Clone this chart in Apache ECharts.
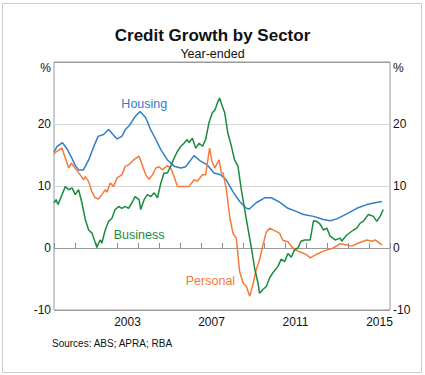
<!DOCTYPE html>
<html>
<head>
<meta charset="utf-8">
<script src="https://cdn.jsdelivr.net/npm/echarts@6/dist/echarts.min.js"></script>
<style>
  html, body { margin: 0; padding: 0; background: #fff; }
  #chart { width: 425px; height: 375px; }
</style>
</head>
<body>
<div id="chart"></div>
<script>
(function() {
  // year-ended growth, % ([decimal year, value])
  var housing = [
    [2000.0, 15.5], [2000.15, 16.4], [2000.4, 17.0], [2000.6, 16.1], [2000.85, 14.5], [2001.0, 13.4],
    [2001.17, 12.6], [2001.4, 12.6], [2001.65, 14.2], [2001.9, 16.4], [2002.1, 18.0], [2002.36, 18.3],
    [2002.6, 19.1], [2002.76, 18.5], [2003.0, 17.6], [2003.23, 18.0], [2003.4, 19.1], [2003.6, 19.8],
    [2003.86, 21.2], [2004.1, 22.0], [2004.37, 21.0], [2004.6, 19.1], [2004.85, 17.5], [2005.08, 15.9],
    [2005.4, 14.2], [2005.72, 13.2], [2006.04, 12.9], [2006.27, 13.1], [2006.67, 14.9], [2006.98, 14.0],
    [2007.3, 13.4], [2007.62, 12.1], [2007.94, 11.8], [2008.2, 11.0], [2008.52, 9.1], [2008.84, 7.5],
    [2009.16, 6.4], [2009.3, 6.3], [2009.63, 7.3], [2010.03, 8.1], [2010.35, 8.1], [2010.74, 7.4],
    [2011.14, 6.4], [2011.53, 5.9], [2011.88, 5.4], [2012.36, 5.1], [2012.83, 4.6], [2013.15, 4.4],
    [2013.47, 4.7], [2013.94, 5.5], [2014.42, 6.4], [2014.89, 7.0], [2015.29, 7.3], [2015.62, 7.5]
  ];
  var personal = [
    [2000.0, 15.2], [2000.14, 15.6], [2000.38, 16.1], [2000.54, 14.5], [2000.7, 12.9], [2000.82, 13.7],
    [2001.0, 12.9], [2001.25, 11.8], [2001.41, 11.0], [2001.49, 11.5], [2001.65, 10.7], [2001.8, 9.1],
    [2001.96, 8.1], [2002.12, 7.9], [2002.28, 8.6], [2002.44, 9.4], [2002.52, 9.0], [2002.68, 10.5],
    [2002.84, 9.9], [2003.0, 11.3], [2003.23, 11.8], [2003.4, 13.2], [2003.55, 13.4], [2003.79, 14.2],
    [2004.05, 14.8], [2004.2, 13.4], [2004.37, 11.8], [2004.53, 11.1], [2004.69, 11.8], [2004.85, 12.9],
    [2005.0, 13.1], [2005.17, 12.6], [2005.4, 13.3], [2005.56, 12.9], [2005.72, 11.5], [2005.88, 9.9],
    [2006.12, 9.9], [2006.43, 9.9], [2006.67, 11.0], [2006.83, 10.8], [2007.07, 11.8], [2007.22, 11.8],
    [2007.41, 16.1], [2007.52, 14.0], [2007.65, 12.9], [2007.86, 14.2], [2007.97, 12.1], [2008.05, 12.1],
    [2008.21, 9.4], [2008.37, 5.0], [2008.52, 2.4], [2008.68, 1.6], [2008.84, -3.8], [2009.0, -5.6],
    [2009.16, -6.2], [2009.32, -7.8], [2009.47, -5.9], [2009.63, -3.5], [2009.79, -1.9], [2009.95, 0.5],
    [2010.11, 2.6], [2010.27, 3.2], [2010.5, 2.8], [2010.74, 2.4], [2010.9, 1.2], [2011.14, 1.0],
    [2011.37, 0.0], [2011.61, -0.5], [2011.85, -0.8], [2012.07, -1.2], [2012.2, -1.6], [2012.51, -1.0],
    [2012.83, -0.5], [2013.3, 0.0], [2013.63, 0.7], [2013.94, 0.5], [2014.18, 0.3], [2014.5, 0.8],
    [2014.89, 1.3], [2015.13, 1.1], [2015.29, 1.3], [2015.62, 0.5]
  ];
  var business = [
    [2000.0, 7.3], [2000.1, 7.8], [2000.19, 7.0], [2000.38, 8.6], [2000.54, 9.9], [2000.7, 9.4],
    [2000.86, 9.7], [2001.01, 8.6], [2001.17, 9.4], [2001.33, 7.3], [2001.49, 4.6], [2001.65, 2.9],
    [2001.81, 2.4], [2002.04, 0.1], [2002.2, 1.3], [2002.28, 0.8], [2002.44, 2.9], [2002.6, 4.3],
    [2002.76, 4.8], [2002.91, 6.2], [2003.08, 6.7], [2003.23, 6.4], [2003.39, 6.7], [2003.55, 6.4],
    [2003.71, 7.3], [2003.86, 8.3], [2004.05, 7.8], [2004.13, 6.2], [2004.29, 7.8], [2004.45, 8.6],
    [2004.61, 8.3], [2004.77, 8.9], [2004.93, 8.1], [2005.09, 10.5], [2005.24, 12.1], [2005.4, 12.1],
    [2005.56, 13.2], [2005.72, 14.5], [2005.88, 15.6], [2006.04, 16.4], [2006.19, 16.9], [2006.35, 17.5],
    [2006.43, 17.0], [2006.59, 17.7], [2006.75, 16.1], [2006.91, 16.9], [2007.07, 16.4], [2007.22, 17.5],
    [2007.38, 20.2], [2007.54, 21.8], [2007.67, 22.3], [2007.78, 23.4], [2007.89, 24.2], [2008.0, 23.0],
    [2008.13, 21.8], [2008.28, 18.5], [2008.45, 16.4], [2008.6, 14.2], [2008.76, 13.2], [2008.92, 9.4],
    [2009.16, 4.6], [2009.4, 0.0], [2009.55, -3.2], [2009.71, -5.6], [2009.79, -7.3], [2009.95, -6.7],
    [2010.11, -6.2], [2010.27, -4.8], [2010.42, -4.0], [2010.66, -3.0], [2010.82, -1.8], [2010.98, -2.2],
    [2011.14, -0.9], [2011.3, -1.5], [2011.45, -0.3], [2011.61, 0.0], [2011.77, 1.1], [2011.93, 1.3],
    [2012.2, 1.3], [2012.36, 4.4], [2012.51, 4.3], [2012.68, 3.8], [2012.83, 2.9], [2012.99, 3.2],
    [2013.15, 1.9], [2013.39, 1.3], [2013.63, 1.6], [2013.7, 1.1], [2013.94, 2.1], [2014.26, 2.9],
    [2014.42, 3.2], [2014.58, 4.0], [2014.73, 4.3], [2014.97, 5.4], [2015.21, 5.1], [2015.37, 4.3],
    [2015.53, 5.1], [2015.68, 6.2]
  ];
  var yearLabels = [2003, 2007, 2011, 2015];

  var blue = '#2f7ec7';
  var green = '#1c8a3e';
  var orange = '#f47a3a';
  var font = '"Liberation Sans", Arial, sans-serif';

  function tag(text, coord, color) {
    return {
      symbol: 'circle', symbolSize: 0, silent: true,
      label: { show: true, position: 'inside', formatter: text, color: color, fontSize: 12.5, fontFamily: font },
      data: [{ coord: coord }]
    };
  }

  function yLabel(v) { return v === 30 ? '{p|%}' : String(v); }

  var chart = echarts.init(document.getElementById('chart'), null, { renderer: 'svg' });
  chart.setOption({
    animation: false,
    title: {
      text: 'Credit Growth by Sector',
      subtext: 'Year-ended',
      left: 'center',
      top: 22,
      itemGap: 3,
      textStyle: { fontSize: 17, fontWeight: 'bold', color: '#111', fontFamily: font },
      subtextStyle: { fontSize: 12.5, color: '#111', fontFamily: font }
    },
    graphic: [
      { type: 'rect', shape: { x: 2.5, y: 3.5, width: 419, height: 369 }, style: { fill: 'none', stroke: '#cfcfcf', lineWidth: 1 } },
      { type: 'text', left: 52, top: 338, style: { text: 'Sources: ABS; APRA; RBA', fontSize: 10, fill: '#111', fontFamily: font } }
    ],
    grid: { left: 54, right: 35, top: 62, bottom: 65, show: true, borderColor: '#9a9a9a', borderWidth: 1 },
    xAxis: [
      {
        type: 'value', min: 2000, max: 2016, interval: 1,
        axisLine: { show: true, lineStyle: { color: '#9a9a9a' } },
        axisTick: { show: true, inside: true, length: 5, lineStyle: { color: '#8a8a8a' } },
        axisLabel: { show: false },
        splitLine: { show: false }
      },
      {
        type: 'value', min: 2000, max: 2016, interval: 0.5, position: 'bottom',
        axisLine: { show: false }, axisTick: { show: false }, splitLine: { show: false },
        axisLabel: {
          margin: 6, fontSize: 12, color: '#111', fontFamily: font,
          formatter: function(v) {
            var y = Math.floor(v);
            return (v - y === 0.5 && yearLabels.indexOf(y) >= 0) ? String(y) : '';
          }
        }
      }
    ],
    yAxis: [
      {
        type: 'value', min: -10, max: 30, interval: 10, position: 'left',
        axisLine: { show: false }, axisTick: { show: false },
        axisLabel: { margin: 3, fontSize: 12, color: '#111', fontFamily: font, formatter: yLabel, rich: { p: { fontSize: 12, color: '#111', fontFamily: font, padding: [12, 0, 0, 0] } } },
        splitLine: { show: true, lineStyle: { color: ['#9a9a9a', '#8a8a8a', '#d6d6d6', '#d6d6d6', '#9a9a9a'], width: 1 } }
      },
      {
        type: 'value', min: -10, max: 30, interval: 10, position: 'right',
        axisLine: { show: false }, axisTick: { show: false },
        axisLabel: { margin: 3, fontSize: 12, color: '#111', fontFamily: font, formatter: yLabel, rich: { p: { fontSize: 12, color: '#111', fontFamily: font, padding: [12, 0, 0, 0] } } },
        splitLine: { show: false }
      }
    ],
    series: [
      {
        name: 'Housing', type: 'line', data: housing, symbol: 'none',
        lineStyle: { color: blue, width: 1.5 }, itemStyle: { color: blue },
        markPoint: tag('Housing', [2004.3, 23.3], blue)
      },
      {
        name: 'Personal', type: 'line', data: personal, symbol: 'none',
        lineStyle: { color: orange, width: 1.5 }, itemStyle: { color: orange },
        markPoint: tag('Personal', [2007.45, -5.4], orange)
      },
      {
        name: 'Business', type: 'line', data: business, symbol: 'none',
        lineStyle: { color: green, width: 1.5 }, itemStyle: { color: green },
        markPoint: tag('Business', [2004.05, 2.1], green)
      }
    ]
  });
  window.addEventListener('resize', function() { chart.resize(); });
})();
</script>
</body>
</html>
